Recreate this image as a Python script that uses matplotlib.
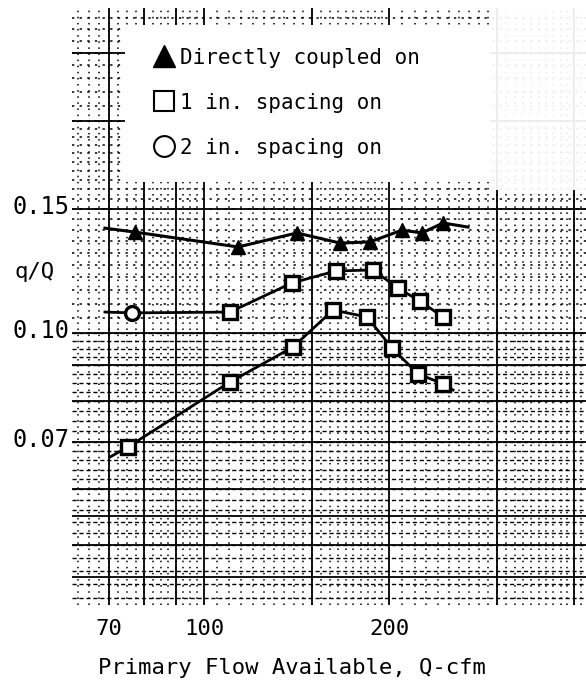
import numpy as np
import matplotlib
matplotlib.use("Agg")
import matplotlib.pyplot as plt
from matplotlib.lines import Line2D
from matplotlib.patches import Rectangle
from matplotlib.ticker import NullLocator, NullFormatter
from matplotlib.transforms import ScaledTranslation

plt.rcParams['font.family'] = ['DejaVu Sans Mono', 'DejaVu Sans']

# Directly coupled (triangles)
top_q = [77.2, 113.6, 141.6, 166.4, 186.2, 209.9, 226.2, 244.7]
top_r = [0.1391, 0.1325, 0.1387, 0.1342, 0.1347, 0.1400, 0.1387, 0.1433]
top_line_q = [69.0] + top_q + [268.7]
top_line_r = [0.1409] + top_r + [0.1414]

# 1 in. spacing
mid_q = [76.4, 110.2, 139.0, 163.9, 188.3, 206.8, 224.5, 244.7]
mid_r = [0.1068, 0.1071, 0.1178, 0.1225, 0.1229, 0.1158, 0.1110, 0.1054]
mid_line_q = [69.0] + mid_q
mid_line_r = [0.1071] + mid_r

# 2 in. spacing
low_q = [75.2, 110.2, 139.5, 162.1, 184.1, 202.2, 222.8, 244.7]
low_r = [0.0689, 0.0852, 0.0955, 0.1078, 0.1054, 0.0952, 0.0875, 0.0847]
low_line_q = [70.4] + low_q + [254.1]
low_line_r = [0.0667] + low_r + [0.0830]

x_ticks = [70, 100, 200]
y_ticks = [0.07, 0.10, 0.15]
y_ticklabels = ['0.07', '0.10', '0.15']
legend_labels = ['Directly coupled on', '1 in. spacing on', '2 in. spacing on']

fig = plt.figure(figsize=(5.86, 6.89), dpi=100)
ax = fig.add_axes([72 / 586, 84 / 689, 514 / 586, 597 / 689])
ax.set_xscale('log')
ax.set_yscale('log')
ax.set_xlim(61.0, 418)
ax.set_ylim(0.0411, 0.2894)

# graph paper
xv_major = [70, 80, 90, 100, 150, 200, 300, 400]
xv_minor = np.concatenate([np.arange(62.5, 100, 2.5), np.arange(105, 200, 5), np.arange(210, 420, 10)])
hy_major = [0.045, 0.05, 0.055, 0.06, 0.07, 0.08, 0.09, 0.10, 0.15, 0.20, 0.25]
hy_low = np.concatenate([np.arange(0.042, 0.07, 0.002), np.arange(0.0725, 0.10, 0.0025)])
hy_high = np.concatenate([np.arange(0.105, 0.20, 0.005), np.arange(0.21, 0.29, 0.01)])

for v in xv_minor:
    ax.axvline(v, color='black', lw=1.1, ls=(0, (1, 3)), zorder=0)
for v in hy_low:
    ax.axhline(v, color='black', lw=1.0, ls=(0, (3, 2)), zorder=0)
for v in hy_high:
    ax.axhline(v, color='black', lw=1.1, ls=(0, (1.5, 3.5)), zorder=0)
for v in xv_major:
    ax.axvline(v, color='black', lw=1.3, zorder=0)
for v in hy_major:
    ax.axhline(v, color='black', lw=1.3, zorder=0)

# blank areas of the sheet
ax.add_patch(Rectangle((0.103, 0.7085), 0.71, 0.263, transform=ax.transAxes,
                       facecolor='white', edgecolor='none', zorder=1))
ax.add_patch(Rectangle((0.813, 0.695), 0.19, 0.31, transform=ax.transAxes,
                       facecolor='white', edgecolor='none', alpha=0.93, zorder=1))

# curves
ax.plot(top_line_q, top_line_r, color='black', lw=2.2, zorder=3)
ax.plot(mid_line_q, mid_line_r, color='black', lw=2.0, zorder=3)
ax.plot(low_line_q, low_line_r, color='black', lw=2.0, zorder=3)

ax.plot(top_q, top_r, ls='none', marker='^', ms=10, color='black', zorder=4)
ax.plot(mid_q[1:], mid_r[1:], ls='none', marker='s', ms=9.5, mfc='white', mec='black', mew=2.4, zorder=4)
ax.plot(mid_q[:1], mid_r[:1], ls='none', marker='o', ms=10, mfc='white', mec='black', mew=2.4, zorder=4)
ax.plot(low_q, low_r, ls='none', marker='s', ms=9.5, mfc='white', mec='black', mew=2.4, zorder=4)

# axes dressing
for s in ax.spines.values():
    s.set_visible(False)
ax.xaxis.set_minor_locator(NullLocator())
ax.yaxis.set_minor_locator(NullLocator())
ax.xaxis.set_minor_formatter(NullFormatter())
ax.yaxis.set_minor_formatter(NullFormatter())
ax.set_xticks(x_ticks)
ax.set_xticklabels([str(t) for t in x_ticks], fontsize=16)
ax.set_yticks(y_ticks)
ax.set_yticklabels(y_ticklabels, fontsize=17)
ax.tick_params(length=0, pad=2)
ax.tick_params(axis='x', pad=10)
for lab in ax.get_yticklabels():
    lab.set_transform(lab.get_transform() + ScaledTranslation(0, 0.05, fig.dpi_scale_trans))

ax.set_ylabel('q/Q', rotation=0, fontsize=16, va='center', ha='center')
ax.yaxis.set_label_coords(-0.072, 0.558)
ax.set_xlabel('Primary Flow Available, Q-cfm', fontsize=16, va='center')
ax.xaxis.set_label_coords(0.428, -0.105)

handles = [
    Line2D([], [], ls='none', marker='^', ms=16, color='black'),
    Line2D([], [], ls='none', marker='s', ms=14, mfc='white', mec='black', mew=1.5),
    Line2D([], [], ls='none', marker='o', ms=15, mfc='white', mec='black', mew=1.5),
]
leg = ax.legend(handles, legend_labels, loc='upper left', bbox_to_anchor=(0.13, 0.958),
                frameon=False, fontsize=15, handlelength=1.0, handletextpad=0.3,
                labelspacing=1.2, borderpad=0.2)
leg.set_zorder(5)

fig.savefig('out.png', dpi=100)
